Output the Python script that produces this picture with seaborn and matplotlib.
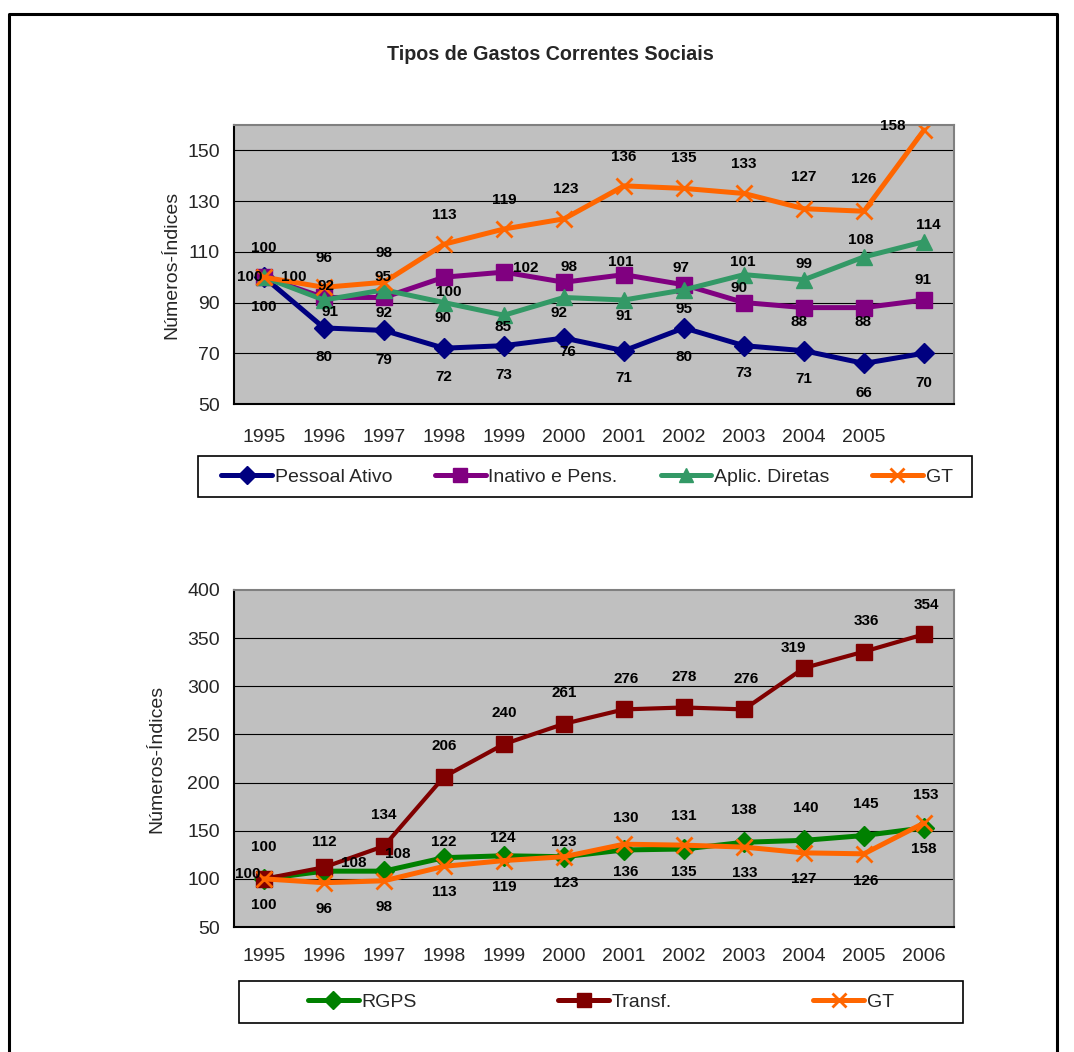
import matplotlib
matplotlib.use("Agg")
import matplotlib.pyplot as plt
from matplotlib.lines import Line2D
from matplotlib.patches import Rectangle
from matplotlib.ticker import FixedLocator
import seaborn as sns

# ---- data -------------------------------------------------------------
years = ["1995", "1996", "1997", "1998", "1999", "2000",
         "2001", "2002", "2003", "2004", "2005", "2006"]
top_ticklabels = years[:-1] + [""]

pessoal_ativo = [100, 80, 79, 72, 73, 76, 71, 80, 73, 71, 66, 70]
inativo_pens = [100, 92, 92, 100, 102, 98, 101, 97, 90, 88, 88, 91]
aplic_diretas = [100, 91, 95, 90, 85, 92, 91, 95, 101, 99, 108, 114]
gt = [100, 96, 98, 113, 119, 123, 136, 135, 133, 127, 126, 158]

rgps = [100, 108, 108, 122, 124, 123, 130, 131, 138, 140, 145, 153]
transf = [100, 112, 134, 206, 240, 261, 276, 278, 276, 319, 336, 354]

top_yticks = [50, 70, 90, 110, 130, 150]
bottom_yticks = [50, 100, 150, 200, 250, 300, 350, 400]

# ---- label placement (pixel offsets from each point) ------------------
off_pessoal = [(0, -30), (0, -29), (0, -30), (0, -29), (0, -29), (4, -14),
               (0, -27), (0, -29), (0, -27), (0, -28), (0, -30), (0, -30)]
off_inativo = [(-14, 0), (2, 11), (0, -16), (5, -15), (22, 4), (5, 15),
               (-3, 13), (-3, 17), (-5, 15), (-5, -14), (-1, -14), (-1, 20)]
off_aplic = [(30, 0), (6, -12), (-1, 13), (-1, -15), (-1, -12), (-5, -16),
             (0, -16), (0, -19), (-1, 13), (0, 16), (-3, 17), (4, 17)]
off_gt_top = [(0, 29), (0, 29), (0, 29), (0, 29), (0, 29), (2, 30),
              (0, 29), (0, 30), (0, 29), (0, 32), (0, 32), (-31, 4)]
off_rgps = [(-16, 5), (30, 8), (14, 17), (0, 16), (-1, 18), (0, 15),
            (2, 32), (0, 33), (0, 32), (2, 32), (2, 32), (2, 33)]
off_transf = [(0, 32), (0, 25), (0, 31), (0, 31), (0, 31), (0, 31),
              (2, 30), (0, 30), (2, 30), (-11, 20), (2, 31), (2, 29)]
off_gt_bot = [(0, -26), (0, -26), (0, -26), (0, -26), (0, -26), (2, -26),
              (2, -28), (0, -27), (1, -26), (0, -26), (2, -27), (0, -26)]

# ---- style ------------------------------------------------------------
sns.set_style("white")
plt.rcParams["font.family"] = ["Liberation Sans", "DejaVu Sans"]

BG = "#C0C0C0"
NAVY, PURPLE, SEAGREEN, ORANGE = "#000080", "#800080", "#339966", "#FF6600"
GREEN, DARKRED = "#008000", "#800000"

W, H = 1074, 1052
fig = plt.figure(figsize=(W / 100, H / 100), dpi=100)
fig.patch.set_facecolor("white")


def fx(px):
    return px / W


def fy(py):
    return 1 - py / H


def add_axes(x0, y0, x1, y1):
    return fig.add_axes([fx(x0), fy(y1), fx(x1) - fx(x0), fy(y0) - fy(y1)])


xpos = list(range(len(years)))


def draw_series(ax, values, color, marker, ms, lw, offsets, mew=1.0):
    sns.lineplot(x=xpos, y=values, ax=ax, color=color, linewidth=lw,
                 marker=marker, markersize=ms, markeredgecolor=color,
                 markerfacecolor=color, markeredgewidth=mew, legend=False)
    return [(x, v, dx, dy) for x, v, (dx, dy) in zip(xpos, values, offsets)]


def style_axes(ax, yticks, ylim, xticklabels, xpad):
    ax.set_facecolor(BG)
    ax.set_xlim(-0.5, len(years) - 0.5)
    ax.set_ylim(*ylim)
    ax.set_yticks(yticks)
    ax.set_yticklabels([str(t) for t in yticks], fontsize=14)
    ax.set_xticks(xpos)
    ax.set_xticklabels(xticklabels, fontsize=14)
    ax.xaxis.set_minor_locator(FixedLocator([i - 0.5 for i in range(len(years) + 1)]))
    ax.tick_params(axis="x", which="major", length=0, pad=xpad)
    ax.tick_params(axis="x", which="minor", length=6, width=1, color="black",
                   direction="out")
    ax.tick_params(axis="y", which="major", length=5, width=1, color="black",
                   direction="out", pad=5)
    for t in yticks:
        if ylim[0] < t < ylim[1]:
            ax.axhline(t, color="black", linewidth=0.8, zorder=0.5)
    ax.spines["left"].set_color("black")
    ax.spines["bottom"].set_color("black")
    ax.spines["top"].set_color("#808080")
    ax.spines["right"].set_color("#808080")
    for s in ax.spines.values():
        s.set_linewidth(1.5)
        s.set_visible(True)
    ax.set_xlabel("")
    ax.set_ylabel("Números-Índices", fontsize=14)


def put_labels(ax, labels):
    for x, v, dx, dy in labels:
        ax.annotate(str(v), (x, v), xytext=(dx, dy), textcoords="offset pixels",
                    ha="center", va="center", fontsize=11, fontweight="bold",
                    color="black", zorder=10)


# ---- top chart ----------------------------------------------------------
ax1 = add_axes(234, 125, 954, 404)
lab = []
lab += draw_series(ax1, pessoal_ativo, NAVY, "D", 10, 3.6, off_pessoal)
lab += draw_series(ax1, inativo_pens, PURPLE, "s", 11, 3.6, off_inativo)
lab += draw_series(ax1, aplic_diretas, SEAGREEN, "^", 11, 3.6, off_aplic)
lab += draw_series(ax1, gt, ORANGE, "x", 12, 3.6, off_gt_top, mew=2)
style_axes(ax1, top_yticks, (50, 160), top_ticklabels, 18)
ax1.yaxis.set_label_coords(-0.075, 0.5)
put_labels(ax1, lab)

# ---- bottom chart -------------------------------------------------------
ax2 = add_axes(234, 590, 954, 927)
lab = []
lab += draw_series(ax2, rgps, GREEN, "D", 10, 3.6, off_rgps)
lab += draw_series(ax2, transf, DARKRED, "s", 12, 3.0, off_transf)
lab += draw_series(ax2, gt, ORANGE, "x", 12, 3.6, off_gt_bot, mew=2)
style_axes(ax2, bottom_yticks, (50, 400), years, 15)
ax2.yaxis.set_label_coords(-0.096, 0.5)
put_labels(ax2, lab)

# ---- title ----------------------------------------------------------------
fig.text(fx(550), fy(55), "Tipos de Gastos Correntes Sociais", ha="center",
         va="center", fontsize=14.2, fontweight="bold")


# ---- legends ----------------------------------------------------------------
def handle(color, marker, ms, mew=1.0):
    return Line2D([], [], color=color, linewidth=3.6, marker=marker,
                  markersize=ms, markerfacecolor=color, markeredgecolor=color,
                  markeredgewidth=mew)


def legend_box(x0, y0, x1, y1):
    fig.patches.append(Rectangle((fx(x0), fy(y1)), fx(x1) - fx(x0),
                                 fy(y0) - fy(y1), transform=fig.transFigure,
                                 facecolor="white", edgecolor="black",
                                 linewidth=1.2, zorder=1))


legend_box(198, 456, 972, 497)
fig.legend([handle(NAVY, "D", 9), handle(PURPLE, "s", 10),
            handle(SEAGREEN, "^", 10), handle(ORANGE, "x", 10, 2)],
           ["Pessoal Ativo", "Inativo e Pens.", "Aplic. Diretas", "GT"],
           loc="center", bbox_to_anchor=(fx(587), fy(477)), ncol=4,
           frameon=False, fontsize=14, handlelength=2.6, handletextpad=0.15,
           columnspacing=2.2, borderpad=0)

legend_box(239, 981, 963, 1023)
fig.legend([handle(GREEN, "D", 9), handle(DARKRED, "s", 10),
            handle(ORANGE, "x", 10, 2)],
           ["RGPS", "Transf.", "GT"],
           loc="center", bbox_to_anchor=(fx(601), fy(1002)), ncol=3,
           frameon=False, fontsize=14, handlelength=2.6, handletextpad=0.15,
           columnspacing=7.27, borderpad=0)

# ---- outer frame --------------------------------------------------------------
fig.lines.append(Line2D([fx(8.5), fx(8.5), fx(1057), fx(1057)],
                        [0, fy(14), fy(14), 0], transform=fig.transFigure,
                        color="black", linewidth=2.2))

fig.savefig("out.png", dpi=100)
